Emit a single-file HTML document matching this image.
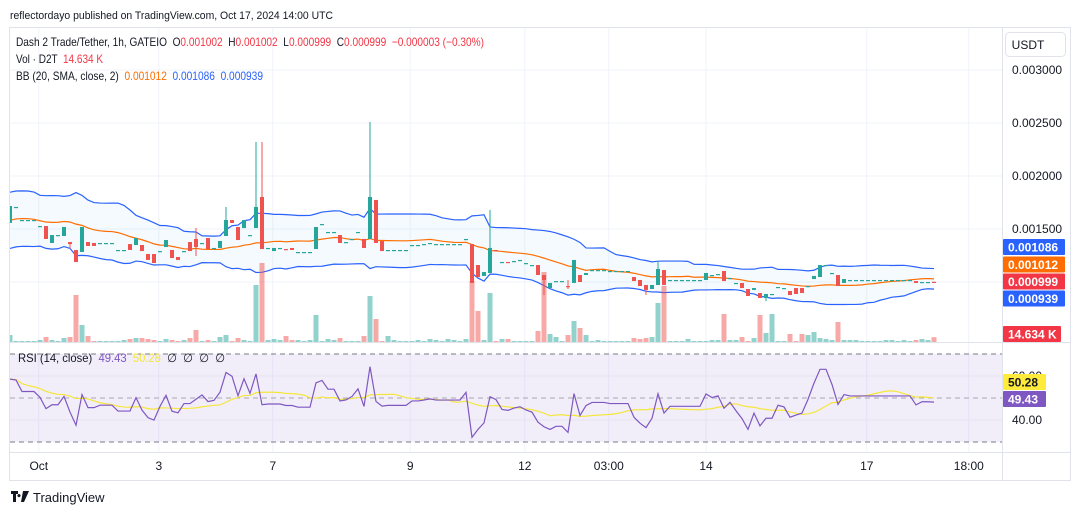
<!DOCTYPE html>
<html><head><meta charset="utf-8"><style>
html,body{margin:0;padding:0;background:#fff;}
svg{display:block;font-family:"Liberation Sans",sans-serif;}
.pre{white-space:pre;}
</style></head><body>
<svg id="chart" width="1080" height="515" viewBox="0 0 1080 515" xmlns="http://www.w3.org/2000/svg">
<rect x="0" y="0" width="1080" height="515" fill="#fff"/>
<text x="10" y="19" font-size="11" fill="#131722" textLength="323" lengthAdjust="spacingAndGlyphs">reflectordayo published on TradingView.com, Oct 17, 2024 14:00 UTC</text>
<rect x="9.5" y="27.5" width="1061" height="453" fill="none" stroke="#e0e3eb"/>
<g id="grid"></g>
<rect x="10" y="354" width="992" height="88" fill="#7e57c2" fill-opacity="0.1"/>
<g id="rsiLines"></g>
<clipPath id="mainClip"><rect x="10" y="28" width="992" height="314"/></clipPath>
<clipPath id="rsiClip"><rect x="10" y="343" width="992" height="109"/></clipPath>
<g clip-path="url(#mainClip)">
<g id="bb"></g>
<g id="vol"></g>
<g id="candles"></g>
</g>
<g clip-path="url(#rsiClip)"><g id="rsi"></g></g>
<line x1="1002.5" y1="28" x2="1002.5" y2="480" stroke="#e0e3eb"/>
<line x1="10" y1="342.5" x2="1070" y2="342.5" stroke="#e0e3eb"/>
<line x1="10" y1="452.5" x2="1070" y2="452.5" stroke="#e0e3eb"/>
<g id="axes"></g>
<g font-size="12">
<text class="pre" x="16" y="46" fill="#131722" textLength="468" lengthAdjust="spacingAndGlyphs">Dash 2 Trade/Tether, 1h, GATEIO  O<tspan fill="#f23645">0.001002</tspan>  H<tspan fill="#f23645">0.001002</tspan>  L<tspan fill="#f23645">0.000999</tspan>  C<tspan fill="#f23645">0.000999</tspan>  <tspan fill="#f23645">−0.000003 (−0.30%)</tspan></text>
<text class="pre" x="16" y="63" fill="#131722" textLength="87" lengthAdjust="spacingAndGlyphs">Vol · D2T  <tspan fill="#f23645">14.634 K</tspan></text>
<text class="pre" x="16" y="80" fill="#131722" textLength="247" lengthAdjust="spacingAndGlyphs">BB (20, SMA, close, 2)  <tspan fill="#ff6d00">0.001012</tspan>  <tspan fill="#2962ff">0.001086</tspan>  <tspan fill="#2962ff">0.000939</tspan></text>
<text class="pre" x="18" y="362" fill="#131722" textLength="207" lengthAdjust="spacingAndGlyphs">RSI (14, close)  <tspan fill="#7e57c2">49.43</tspan>  <tspan fill="#f5e63b">50.28</tspan>  ∅  ∅  ∅  ∅</text>
</g>
<rect x="1005.5" y="32.5" width="60" height="24" rx="4" fill="#fff" stroke="#e0e3eb"/>
<text x="1028" y="49" font-size="12" fill="#131722" text-anchor="middle">USDT</text>
<g>
<path d="M11 491h7v3h-2v8h-3v-8h-2z M19 494a1.6 1.6 0 1 0 0.01 0z M23 491h6l-5 11h-3z" fill="#131722"/>
<text x="33" y="502" font-size="13" fill="#131722">TradingView</text>
</g>
</svg>
<script>
// prices in micro-USDT (1e-6)
const opens=[1557,1708,1585,1585,1585,1528,1528,1368,1443,1434,1377,1302,1283,1377,1368,1368,1368,1368,1302,1302,1358,1349,1349,1264,1264,1292,1330,1302,1236,1292,1377,1406,1368,1415,1321,1321,1434,1585,1519,1509,1443,1509,1802,1321,1292,1321,1311,1321,1283,1283,1283,1311,1547,1472,1472,1443,1377,1406,1472,1406,1406,1774,1387,1302,1302,1302,1302,1349,1349,1358,1368,1358,1358,1358,1358,1358,1406,1358,1160,1057,1085,1302,1189,1189,1198,1208,1179,1160,1160,1066,943,1009,1009,962,991,1066,1066,1113,1113,1113,1104,1104,1104,1104,1047,1019,972,934,972,1113,1019,1019,1019,1019,1019,1019,1019,1066,1075,1104,1038,991,991,934,925,896,849,887,953,943,915,943,943,962,1028,1047,1160,1085,1066,991,1019,1019,1019,1019,1019,1019,1019,1019,1019,1019,1019,1009,1000,1000,1002];
const closes=[1717,1708,1585,1585,1585,1528,1406,1443,1443,1519,1358,1189,1519,1340,1340,1368,1368,1368,1302,1302,1302,1415,1292,1208,1179,1292,1396,1226,1208,1292,1292,1330,1368,1311,1321,1387,1585,1557,1396,1585,1443,1708,1311,1321,1321,1321,1302,1302,1283,1283,1283,1519,1547,1472,1472,1368,1377,1406,1472,1321,1802,1368,1292,1302,1302,1302,1302,1349,1349,1358,1368,1358,1358,1358,1358,1358,1406,991,1047,1094,1321,1292,1189,1179,1198,1208,1179,1160,1066,1019,991,1009,1009,953,1208,1000,1085,1113,1113,1113,1104,1104,1104,1104,1009,962,925,972,1123,972,1019,1019,1019,1019,1019,1019,1085,1066,1075,1009,1038,991,943,868,943,849,887,887,953,943,877,887,896,962,1057,1160,1160,1085,962,1028,1019,1019,1019,1019,1019,1019,1019,1019,1019,1019,1019,991,1000,1000,999];
const highs=[1717,1708,1585,1585,1585,1528,1528,1443,1443,1519,1377,1302,1519,1377,1368,1368,1368,1368,1302,1302,1358,1415,1349,1264,1264,1292,1396,1302,1236,1292,1377,1509,1368,1415,1321,1387,1708,1585,1519,1585,1443,2321,2321,1321,1321,1321,1311,1321,1283,1283,1283,1519,1547,1472,1472,1443,1377,1406,1472,1406,2509,1774,1387,1302,1302,1302,1302,1349,1349,1358,1368,1358,1358,1358,1358,1358,1406,1358,1160,1094,1680,1302,1189,1189,1198,1208,1179,1160,1160,1066,991,1009,1009,1019,1208,1066,1085,1113,1113,1113,1104,1104,1104,1104,1047,1019,972,972,1198,1113,1019,1019,1019,1019,1019,1019,1085,1066,1075,1104,1038,991,991,934,943,896,887,887,953,943,915,943,943,962,1057,1160,1160,1085,1066,1028,1019,1019,1019,1019,1019,1019,1019,1019,1019,1019,1019,1009,1000,1000,1002];
const lows=[1557,1708,1585,1585,1585,1528,1406,1368,1443,1434,1311,1189,1283,1340,1340,1368,1368,1368,1302,1302,1302,1349,1292,1208,1179,1292,1330,1226,1208,1292,1292,1245,1368,1311,1321,1321,1434,1557,1396,1509,1443,1509,1311,1321,1292,1321,1302,1302,1283,1283,1283,1311,1547,1472,1472,1368,1377,1406,1472,1321,1406,1368,1292,1302,1302,1302,1302,1349,1349,1358,1368,1358,1358,1358,1358,1358,1406,991,1047,1057,1085,1292,1189,1179,1198,1208,1179,1160,1066,877,943,1009,1009,934,991,1000,1066,1113,1113,1113,1104,1104,1104,1104,1009,962,877,934,972,972,1019,1019,1019,1019,1019,1019,1019,1066,1075,1009,1038,991,943,868,925,849,820,887,953,943,877,887,896,962,1028,1047,1160,1085,962,991,1019,1019,1019,1019,1019,1019,1019,1019,1019,1019,1019,991,1000,1000,999];
// volumes in thousands of D2T
const volumes=[21,3,3,3,3,6,15,6,3,12,15,141,51,18,3,3,3,3,3,6,9,12,12,9,6,3,9,6,3,6,12,36,3,6,3,15,21,3,12,6,3,171,237,6,9,6,18,6,6,3,6,81,3,9,6,12,3,3,3,18,138,69,3,18,6,3,3,3,6,3,9,6,3,9,6,3,9,183,93,6,147,3,9,9,3,3,3,3,33,210,24,15,3,21,63,42,21,3,6,3,3,3,3,3,12,9,12,15,117,168,3,3,3,9,3,3,3,6,6,84,6,6,15,3,12,81,27,84,3,3,24,3,24,21,30,12,9,6,60,6,6,6,3,3,3,3,6,6,3,6,3,6,9,6,14.634];
// estimated closes before the visible range (indicator warm-up)
const historyCloses=[1450,1520,1600,1700,1800,1650,1500,1420,1380,1450,1600,1750,1820,1700,1550,1480,1400,1500,1650];
const priceTicks=[3000,2500,2000,1500];
const rsiTicks=[60,40];
const timeLabels=["Oct","3","7","9","12","03:00","14","17","18:00"];
const timeLabelIdx=[4.8,24.8,43.8,66.7,85.8,99.8,116,142.8,159.8];

const NS="http://www.w3.org/2000/svg";
const xOf=i=>10+i*6;
const yP=p=>70+(3000-p)*0.106;
const yV=v=>342-v/3;
const yR=r=>398-(r-50)*2.2;
function mk(tag,attrs,parent){const e=document.createElementNS(NS,tag);for(const k in attrs)e.setAttribute(k,attrs[k]);parent.appendChild(e);return e;}
const G=id=>document.getElementById(id);
const UP="#26a69a",DN="#ef5350";

const grid=G('grid');
priceTicks.concat([1000]).forEach(p=>{const l=mk('line',{x1:10,x2:1002,y1:yP(p),y2:yP(p),stroke:'#f0f3fa'},grid);});
timeLabelIdx.forEach(t=>{const l=mk('line',{x1:xOf(t),x2:xOf(t),y1:28,y2:452,stroke:'#f0f3fa'},grid);});
const rl=G('rsiLines');
rsiTicks.forEach(r=>{const l=mk('line',{x1:10,x2:1002,y1:yR(r),y2:yR(r),stroke:'#e6e2f0'},rl);});
[70,50,30].forEach(r=>{const l=mk('line',{x1:10,x2:1002,y1:yR(r),y2:yR(r),stroke:r==50?'#a8a5b3':'#787b86','stroke-dasharray':'5,4'},rl);});

const all=historyCloses.concat(closes),H=historyCloses.length;
const basis=[],upper=[],lower=[];
for(let i=0;i<closes.length;i++){const j=i+H,s=Math.max(0,j-19),w=all.slice(s,j+1);const m=w.reduce((a,b)=>a+b,0)/w.length;const sd=Math.sqrt(w.reduce((a,b)=>a+(b-m)*(b-m),0)/w.length);basis.push(m);upper.push(m+2*sd);lower.push(m-2*sd);}
const bb=G('bb');
let fillD='M'+upper.map((v,i)=>xOf(i)+','+yP(v)).join('L')+'L'+lower.map((v,i)=>xOf(i)+','+yP(v)).reverse().join('L')+'Z';
const bf=mk('path',{d:fillD,fill:'#2196f3','fill-opacity':0.05},bb);
[[upper,'#2962ff','bb-upper'],[lower,'#2962ff','bb-lower'],[basis,'#ff6d00','bb-basis']].forEach(([arr,c,n])=>{const p=mk('path',{d:'M'+arr.map((v,i)=>xOf(i)+','+yP(v)).join('L'),fill:'none',stroke:c,'stroke-width':1.2},bb);});

const vg=G('vol');
volumes.forEach((v,i)=>{const up=closes[i]>=opens[i];const r=mk('rect',{x:xOf(i)-2.5,y:yV(v),width:5,height:342-yV(v),fill:up?UP:DN,'fill-opacity':0.5},vg);});

const cg=G('candles');
closes.forEach((c,i)=>{const o=opens[i],up=c>=o,col=up?UP:DN;const g=mk('g',{},cg);
mk('line',{x1:xOf(i),x2:xOf(i),y1:yP(highs[i]),y2:yP(lows[i]),stroke:col,'stroke-width':1},g);
const t=yP(Math.max(o,c)),b=yP(Math.min(o,c));mk('rect',{x:xOf(i)-2,y:t,width:4,height:Math.max(1.2,b-t),fill:col},g);});

const rsi=[];
let ag=0,al=0;
for(let j=1;j<all.length;j++){const d=all[j]-all[j-1],gn=Math.max(d,0),ls=Math.max(-d,0);
 if(j<=14){ag+=gn/14;al+=ls/14;}else{ag=(ag*13+gn)/14;al=(al*13+ls)/14;}
 if(j>=H){rsi.push(al===0?100:100-100/(1+ag/al));}}
const rsiMa=rsi.map((v,i)=>{const w=rsi.slice(Math.max(0,i-13),i+1);return w.reduce((a,b)=>a+b,0)/w.length;});
const rg=G('rsi');
const rm=mk('path',{d:'M'+rsiMa.map((v,i)=>xOf(i)+','+yR(v)).join('L'),fill:'none',stroke:'#f5e63b','stroke-width':1.2},rg);
const rp=mk('path',{d:'M'+rsi.map((v,i)=>xOf(i)+','+yR(v)).join('L'),fill:'none',stroke:'#7e57c2','stroke-width':1.2},rg);

const ax=G('axes');
priceTicks.forEach(p=>{const t=mk('text',{x:1012,y:yP(p)+4,'font-size':12,fill:'#131722'},ax);t.textContent=(p/1e6).toFixed(6);});
const t60=mk('text',{x:1012,y:yR(60)+4,'font-size':12,fill:'#131722'},ax);t60.textContent='60.00';
const t40=mk('text',{x:1012,y:yR(40)+4,'font-size':12,fill:'#131722'},ax);t40.textContent='40.00';
timeLabels.forEach((s,k)=>{const t=mk('text',{x:xOf(timeLabelIdx[k]),y:470,'font-size':12,fill:'#131722','text-anchor':'middle'},ax);t.textContent=s;});
const tags=[[239,'#2962ff','0.001086',62],[256.5,'#ff6d00','0.001012',62],[273.5,'#f23645','0.000999',62],[290.5,'#2962ff','0.000939',62],[326,'#f23645','14.634 K',58],[374,'#ffeb3b','50.28',43],[391,'#7e57c2','49.43',43]];
tags.forEach(([y,c,s,w])=>{const g=mk('g',{},ax);
mk('rect',{x:1003,y:y,width:w,height:16,fill:c,rx:1},g);const t=mk('text',{x:1008,y:y+12.5,'font-size':12,'font-weight':'bold',fill:c==='#ffeb3b'?'#131722':'#fff'},g);t.textContent=s;});
</script>
</body></html>
